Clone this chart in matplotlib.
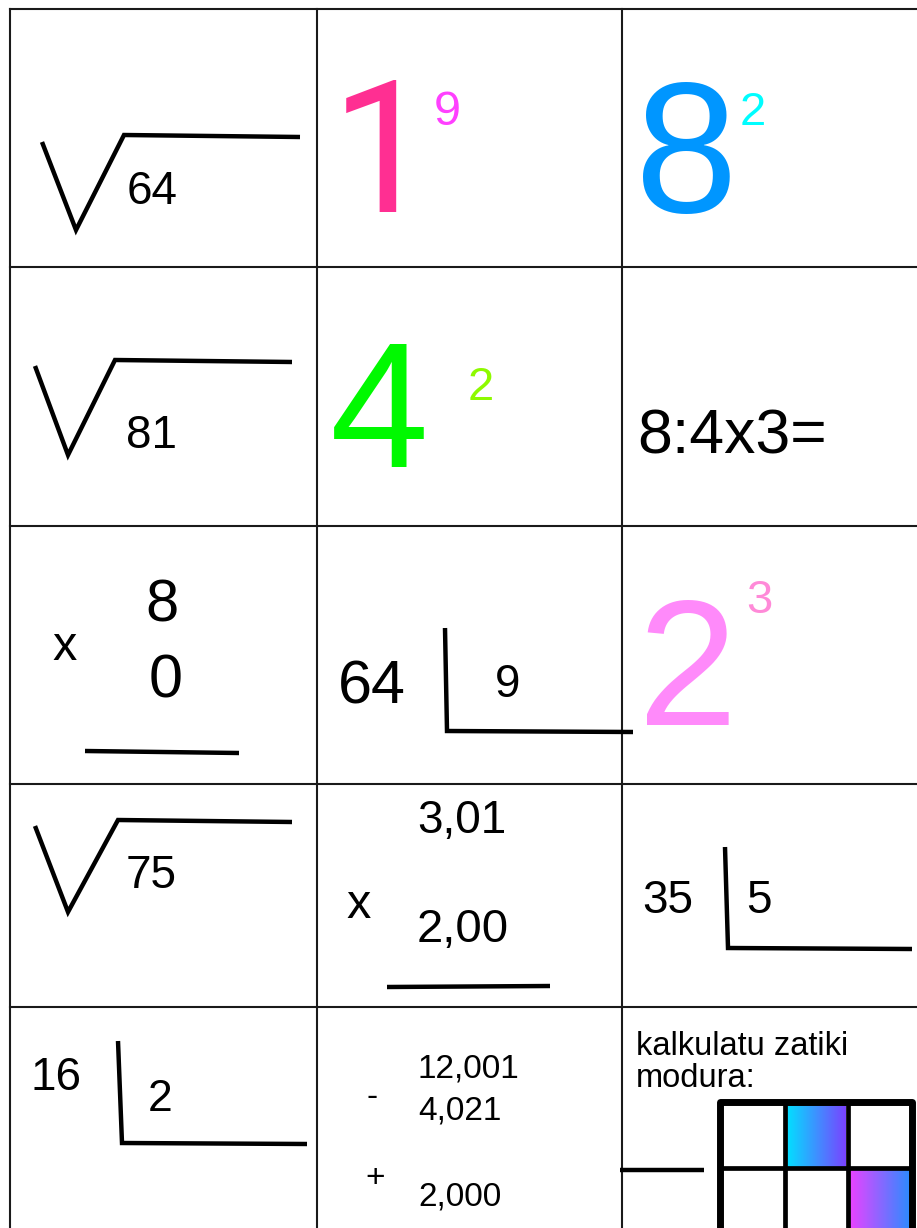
import matplotlib.pyplot as plt
import numpy as np
from matplotlib.colors import LinearSegmentedColormap

plt.rcParams['font.family'] = ['Liberation Sans', 'DejaVu Sans']

# worksheet contents
sqrt_numbers = ["64", "81", "75"]
power_bases = ["1", "8", "4", "2"]
power_exps = ["9", "2", "2", "3"]
base_colors = ["#FF2F92", "#0096FF", "#00F900", "#FF8AFA"]
exp_colors = ["#FF40FF", "#00FDFF", "#8EFA00", "#FF8AD8"]
dividends = ["64", "35", "16"]
divisors = ["9", "5", "2"]
expression = "8:4x3="
mult_a = ["8", "0"]
mult_b = ["3,01", "2,00"]
sub_rows = ["12,001", "4,021", "2,000"]
note_lines = ["kalkulatu zatiki", "modura:"]

W, H = 917, 1228
fig = plt.figure(figsize=(W / 100, H / 100), dpi=100)
ax = fig.add_axes([0, 0, 1, 1])
ax.set_xlim(0, W)
ax.set_ylim(H, 0)
ax.axis('off')

# table grid
grid_kw = dict(color='#1a1a1a', lw=1.5)
for x in [10, 317, 622]:
    ax.plot([x, x], [9, H], **grid_kw)
for y in [9, 267, 526, 784, 1007]:
    ax.plot([10, W], [y, y], **grid_kw)

stroke = dict(color='black', lw=3.2, solid_capstyle='butt', solid_joinstyle='miter')

# square root signs
sqrt_paths = [
    ([42, 76, 124, 300], [142, 230, 135, 137], 127, 204),
    ([35, 68, 115, 292], [366, 455, 360, 362], 126, 448),
    ([35, 68, 118, 292], [826, 912, 820, 822], 126, 888),
]
for num, (xs, ys, tx, ty) in zip(sqrt_numbers, sqrt_paths):
    ax.plot(xs, ys, **stroke)
    ax.text(tx, ty, num, fontsize=33, va='baseline', ha='left')

# powers
power_pos = [(331, 212, 132, 434, 125, 35, 'Roboto'),
             (635, 212, 133, 740, 125, 34, 'Liberation Sans'),
             (330, 467, 128, 468, 400, 34, 'Liberation Sans'),
             (638, 725, 129, 746, 613, 34, 'Liberation Sans')]
for b, e, bc, ec, (bx, by, bs, ex, ey, es, fam) in zip(power_bases, power_exps, base_colors, exp_colors, power_pos):
    ax.text(bx, by, b, fontsize=bs, color=bc, va='baseline', ha='left', family=[fam, 'DejaVu Sans'])
    ax.text(ex, ey, e, fontsize=es, color=ec, va='baseline', ha='left')

ax.text(637, 453, expression, fontsize=45, va='baseline', ha='left')

# multiplication 8 x 0
ax.text(145, 621, mult_a[0], fontsize=43, va='baseline', ha='left')
ax.text(149, 698, mult_a[1], fontsize=44, va='baseline', ha='left')
ax.text(52, 660, "x", fontsize=35, va='baseline', ha='left')
ax.plot([85, 239], [751, 753], **stroke)

# divisions
div_pos = [
    (338, 703, 44, 495, 697, 33, [445, 447, 633], [628, 731, 732]),
    (642, 913, 33, 746, 913, 33, [725, 728, 912], [847, 948, 949]),
    (30, 1090, 33, 148, 1111, 32, [118, 122, 307], [1041, 1143, 1144]),
]
for dv, ds, (ax_, ay, asz, bx, by, bsz, lx, ly) in zip(dividends, divisors, div_pos):
    ax.text(ax_, ay, dv, fontsize=asz, va='baseline', ha='left')
    ax.text(bx, by, ds, fontsize=bsz, va='baseline', ha='left')
    ax.plot(lx, ly, **stroke)

# decimal multiplication
ax.text(417, 833, mult_b[0], fontsize=33, va='baseline', ha='left')
ax.text(417, 942, mult_b[1], fontsize=34, va='baseline', ha='left')
ax.text(346, 918, "x", fontsize=35, va='baseline', ha='left')
ax.plot([387, 550], [987, 986], **stroke)

# subtraction / addition
for txt, y in zip(sub_rows, [1077, 1120, 1205]):
    ax.text(418, y, txt, fontsize=24, va='baseline', ha='left')
ax.text(366, 1106, "-", fontsize=24, va='baseline', ha='left')
ax.text(365, 1187, "+", fontsize=24, va='baseline', ha='left')

# fraction grid
for txt, y in zip(note_lines, [1055, 1087]):
    ax.text(636, y, txt, fontsize=23.5, va='baseline', ha='left')
ax.plot([620, 704], [1170, 1170], **stroke)

grad1 = LinearSegmentedColormap.from_list('g1', ['#00E2FF', '#7A42FF'])
grad2 = LinearSegmentedColormap.from_list('g2', ['#F040FF', '#2A8CFF'])
ramp = np.linspace(0, 1, 256).reshape(1, -1)
ax.imshow(ramp, cmap=grad1, extent=(786, 846, 1167, 1105), aspect='auto', zorder=1)
ax.imshow(ramp, cmap=grad2, extent=(848, 911, H, 1168), aspect='auto', zorder=1)

thick = dict(color='black', lw=5, solid_capstyle='projecting', zorder=3)
thin = dict(color='black', lw=3.4, solid_capstyle='butt', zorder=3)
ax.plot([720, 720, 912, 912], [H, 1102, 1102, H], **thick)
ax.plot([720, 912], [1168, 1168], **thin)
ax.plot([785, 785], [1102, H], **thin)
ax.plot([848, 848], [1102, H], **thin)

ax.set_xlim(0, W)
ax.set_ylim(H, 0)

fig.savefig('out.png', dpi=100)
